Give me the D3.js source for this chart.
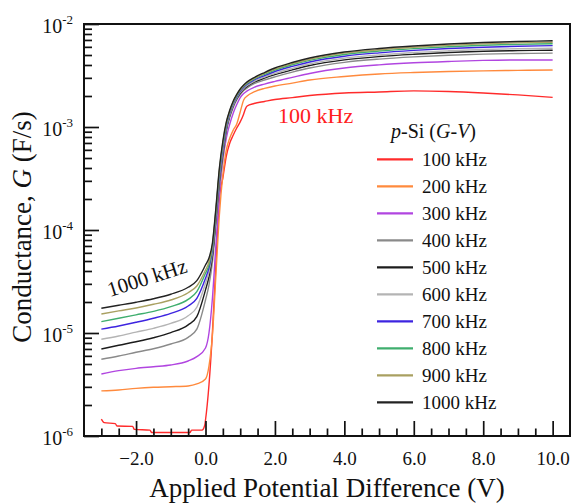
<!DOCTYPE html>
<html>
<head>
<meta charset="utf-8">
<script src="https://cdn.jsdelivr.net/npm/d3@7"></script>
<style>
body { margin: 0; background: #fff; }
svg, text { font-family: "Liberation Serif", "Times New Roman", serif; fill: #111; }
</style>
</head>
<body>
<script>
// p-Si G-V data (V, F/s)
const voltage = [-3, -2.5, -2, -1.5, -1, -0.5, -0.25, 0, 0.1, 0.2, 0.3, 0.4, 0.5, 0.6, 0.7, 0.8, 0.9, 1.0, 1.1, 1.2, 1.4, 1.7, 2, 2.5, 3, 4, 5, 6, 7, 8, 9, 10]
const voltage100 = [-3, -2.92, -2.6, -2.55, -2.1, -2.05, -1.6, -1.55, -0.45, -0.4, -0.1, -0.02, 0, 0.1, 0.2, 0.3, 0.4, 0.5, 0.6, 0.7, 0.8, 0.9, 1.0, 1.1, 1.15, 1.2, 1.4, 1.7, 2, 2.5, 3, 4, 5, 6, 7, 8, 9, 10]

const g100 = [1.46e-6, 1.35e-6, 1.32e-6, 1.25e-6, 1.24e-6, 1.16e-6, 1.14e-6, 1.08e-6, 1.08e-6, 1.14e-6, 1.14e-6, 1.28e-6, 1.43e-6, 3.13e-6, 1.02e-5, 4.68e-5, 2.05e-4, 3.20e-4, 5.23e-4, 6.99e-4, 8.36e-4, 9.78e-4, 1.12e-3, 1.34e-3, 1.50e-3, 1.60e-3, 1.69e-3, 1.77e-3, 1.85e-3, 1.93e-3, 2.02e-3, 2.14e-3, 2.19e-3, 2.24e-3, 2.21e-3, 2.14e-3, 2.05e-3, 1.94e-3]
const g200 = [2.74e-6, 2.80e-6, 2.90e-6, 2.97e-6, 3.01e-6, 3.06e-6, 3.20e-6, 3.58e-6, 4.78e-6, 9.56e-6, 3.66e-5, 1.40e-4, 3.42e-4, 5.98e-4, 7.82e-4, 9.35e-4, 1.07e-3, 1.40e-3, 1.83e-3, 2.00e-3, 2.19e-3, 2.37e-3, 2.50e-3, 2.67e-3, 2.86e-3, 3.09e-3, 3.27e-3, 3.38e-3, 3.46e-3, 3.51e-3, 3.55e-3, 3.58e-3]
const g300 = [4.00e-6, 4.31e-6, 4.54e-6, 4.71e-6, 4.89e-6, 5.35e-6, 5.89e-6, 7.15e-6, 1.00e-5, 2.19e-5, 7.15e-5, 2.19e-4, 4.78e-4, 7.82e-4, 1.07e-3, 1.37e-3, 1.65e-3, 1.93e-3, 2.11e-3, 2.24e-3, 2.43e-3, 2.61e-3, 2.77e-3, 3.03e-3, 3.31e-3, 3.74e-3, 4.01e-3, 4.20e-3, 4.33e-3, 4.43e-3, 4.47e-3, 4.47e-3]
const g400 = [5.56e-6, 5.98e-6, 6.50e-6, 7.04e-6, 7.82e-6, 9.08e-6, 1.09e-5, 2.09e-5, 2.92e-5, 4.89e-5, 1.14e-4, 2.67e-4, 5.00e-4, 8.94e-4, 1.24e-3, 1.55e-3, 1.83e-3, 2.06e-3, 2.26e-3, 2.40e-3, 2.63e-3, 2.86e-3, 3.07e-3, 3.41e-3, 3.74e-3, 4.24e-3, 4.56e-3, 4.79e-3, 4.97e-3, 5.10e-3, 5.17e-3, 5.21e-3]
const g500 = [6.99e-6, 7.60e-6, 8.23e-6, 9.00e-6, 1.01e-5, 1.20e-5, 1.44e-5, 2.62e-5, 3.50e-5, 5.59e-5, 1.25e-4, 2.99e-4, 5.47e-4, 9.44e-4, 1.29e-3, 1.61e-3, 1.88e-3, 2.12e-3, 2.32e-3, 2.48e-3, 2.72e-3, 2.98e-3, 3.22e-3, 3.59e-3, 3.95e-3, 4.48e-3, 4.83e-3, 5.08e-3, 5.28e-3, 5.43e-3, 5.52e-3, 5.57e-3]
const g600 = [8.69e-6, 9.35e-6, 1.02e-5, 1.11e-5, 1.24e-5, 1.47e-5, 1.78e-5, 3.04e-5, 3.91e-5, 6.11e-5, 1.34e-4, 3.20e-4, 5.85e-4, 9.78e-4, 1.32e-3, 1.64e-3, 1.92e-3, 2.17e-3, 2.37e-3, 2.53e-3, 2.78e-3, 3.06e-3, 3.32e-3, 3.71e-3, 4.09e-3, 4.66e-3, 5.01e-3, 5.29e-3, 5.49e-3, 5.65e-3, 5.76e-3, 5.82e-3]
const g700 = [1.09e-5, 1.17e-5, 1.27e-5, 1.39e-5, 1.55e-5, 1.83e-5, 2.17e-5, 3.40e-5, 4.28e-5, 6.54e-5, 1.43e-4, 3.42e-4, 6.25e-4, 1.02e-3, 1.37e-3, 1.69e-3, 1.96e-3, 2.22e-3, 2.43e-3, 2.60e-3, 2.86e-3, 3.16e-3, 3.46e-3, 3.88e-3, 4.28e-3, 4.87e-3, 5.25e-3, 5.54e-3, 5.78e-3, 5.95e-3, 6.08e-3, 6.16e-3]
const g800 = [1.29e-5, 1.39e-5, 1.50e-5, 1.62e-5, 1.80e-5, 2.12e-5, 2.52e-5, 3.80e-5, 4.57e-5, 6.84e-5, 1.50e-4, 3.66e-4, 6.69e-4, 1.06e-3, 1.41e-3, 1.73e-3, 2.00e-3, 2.27e-3, 2.48e-3, 2.65e-3, 2.92e-3, 3.25e-3, 3.57e-3, 4.02e-3, 4.43e-3, 5.06e-3, 5.46e-3, 5.77e-3, 6.02e-3, 6.21e-3, 6.34e-3, 6.44e-3]
const g900 = [1.53e-5, 1.64e-5, 1.75e-5, 1.90e-5, 2.09e-5, 2.46e-5, 2.86e-5, 4.09e-5, 4.89e-5, 7.15e-5, 1.56e-4, 3.82e-4, 6.99e-4, 1.09e-3, 1.43e-3, 1.76e-3, 2.04e-3, 2.30e-3, 2.52e-3, 2.69e-3, 2.97e-3, 3.31e-3, 3.65e-3, 4.12e-3, 4.55e-3, 5.21e-3, 5.62e-3, 5.94e-3, 6.20e-3, 6.41e-3, 6.56e-3, 6.66e-3]
const g1000 = [1.74e-5, 1.86e-5, 1.99e-5, 2.15e-5, 2.38e-5, 2.78e-5, 3.22e-5, 4.57e-5, 5.35e-5, 7.48e-5, 1.64e-4, 4.00e-4, 7.31e-4, 1.12e-3, 1.46e-3, 1.79e-3, 2.07e-3, 2.34e-3, 2.56e-3, 2.74e-3, 3.02e-3, 3.38e-3, 3.74e-3, 4.23e-3, 4.68e-3, 5.35e-3, 5.78e-3, 6.11e-3, 6.39e-3, 6.61e-3, 6.76e-3, 6.88e-3]

const freqs = ["100 kHz", "200 kHz", "300 kHz", "400 kHz", "500 kHz", "600 kHz", "700 kHz", "800 kHz", "900 kHz", "1000 kHz"]
const colors = ["#ff2b2b", "#ff8a3d", "#b145e0", "#8a8a8a", "#1c1c1c", "#b4b4b4", "#3d24e0", "#3fae6e", "#a9a061", "#222222"]

const xMajor = [-2, 0, 2, 4, 6, 8, 10]
const yMajor = [1e-6, 1e-5, 1e-4, 1e-3, 1e-2]

let w = 573, h = 504
let m = {left: 84, right: 570, top: 24, bottom: 436}

let x = d3.scaleLinear().domain([-3.5, 10.5]).range([m.left, m.right])
let y = d3.scaleLog().domain([1e-6, 1e-2]).range([m.bottom, m.top])

let svg = d3.select("body").append("svg")
    .attr("width", w)
    .attr("height", h)

svg.append("rect").attr("width", w).attr("height", h).style("fill", "#fff")

// curves, lowest frequency first
let gvals = [g100, g200, g300, g400, g500, g600, g700, g800, g900, g1000]
let series = freqs.map((f, i) => ({
    name: f,
    color: colors[i],
    pts: d3.zip(i === 0 ? voltage100 : voltage, gvals[i])
}))

let line = d3.line()
    .x(d => x(d[0]))
    .y(d => y(d[1]))
    .curve(d3.curveMonotoneX)

svg.append("g").selectAll("path")
    .data(series)
    .enter()
    .append("path")
        .attr("d", s => line(s.pts))
        .style("fill", "none")
        .style("stroke", s => s.color)
        .style("stroke-width", 1.4)

// x axis ticks (inward)
let xMinor = d3.range(-3, 10.01, 0.5).filter(v => !xMajor.includes(v))
svg.append("g")
    .attr("transform", `translate(0,${m.bottom})`)
    .call(d3.axisBottom(x).tickValues(xMinor).tickSize(-7.5).tickFormat(""))
svg.append("g")
    .attr("class", "xmaj")
    .attr("transform", `translate(0,${m.bottom})`)
    .call(d3.axisBottom(x).tickValues(xMajor).tickSize(-15).tickPadding(16).tickFormat(d3.format(".1f")))

// y axis ticks (inward)
let yMinor = []
yMajor.slice(0, -1).forEach(d => { for (let k = 2; k <= 9; k++) yMinor.push(d * k) })
svg.append("g")
    .attr("transform", `translate(${m.left},0)`)
    .call(d3.axisLeft(y).tickValues(yMinor).tickSize(-8).tickFormat(""))
svg.append("g")
    .attr("transform", `translate(${m.left},0)`)
    .call(d3.axisLeft(y).tickValues(yMajor).tickSize(-15).tickFormat(""))

svg.selectAll(".domain").remove()
svg.selectAll("g").attr("font-family", null).attr("font-size", null)
svg.selectAll(".tick line").style("stroke", "#111").style("stroke-width", 1.7)
svg.selectAll(".xmaj text")
    .style("font-size", "19px")
    .style("fill", "#111")

// y tick labels 10^n
let ylab = svg.append("g").selectAll("text")
    .data(yMajor)
    .enter()
    .append("text")
        .attr("x", 73)
        .attr("y", d => y(d) + 9)
        .attr("text-anchor", "end")
        .style("font-size", "20px")
ylab.append("tspan").text("10")
ylab.append("tspan")
    .attr("dy", -9)
    .style("font-size", "13px")
    .text(d => Math.round(Math.log10(d)))

// frame
svg.append("rect")
    .attr("x", m.left)
    .attr("y", m.top)
    .attr("width", m.right - m.left)
    .attr("height", m.bottom - m.top)
    .style("fill", "none")
    .style("stroke", "#111")
    .style("stroke-width", 2)

// axis titles
svg.append("text")
    .attr("x", (m.left + m.right) / 2)
    .attr("y", 497)
    .attr("text-anchor", "middle")
    .style("font-size", "27px")
    .text("Applied Potential Difference (V)")

let yt = svg.append("text")
    .attr("transform", "translate(31,227) rotate(-90)")
    .attr("text-anchor", "middle")
    .style("font-size", "27px")
yt.append("tspan").text("Conductance, ")
yt.append("tspan").style("font-style", "italic").text("G")
yt.append("tspan").text(" (F/s)")

// legend
let lt = svg.append("text")
    .attr("x", 391)
    .attr("y", 138)
    .style("font-size", "20px")
lt.append("tspan").style("font-style", "italic").text("p")
lt.append("tspan").text("-Si (")
lt.append("tspan").style("font-style", "italic").text("G")
lt.append("tspan").text("-")
lt.append("tspan").style("font-style", "italic").text("V")
lt.append("tspan").text(")")

let leg = svg.append("g").selectAll("g")
    .data(series)
    .enter()
    .append("g")
        .attr("transform", (d, i) => `translate(0,${159.3 + i * 27})`)
leg.append("line")
    .attr("x1", 377).attr("x2", 413)
    .style("stroke", d => d.color)
    .style("stroke-width", 2.2)
leg.append("text")
    .attr("x", 422)
    .attr("y", 6.5)
    .style("font-size", "19px")
    .text(d => d.name)

// annotations
svg.append("text")
    .attr("x", 278)
    .attr("y", 123)
    .style("font-size", "22px")
    .style("fill", "#ff2020")
    .text("100 kHz")

svg.append("text")
    .attr("transform", "translate(110,297) rotate(-17.7)")
    .style("font-size", "21px")
    .text("1000 kHz")
</script>
</body>
</html>
